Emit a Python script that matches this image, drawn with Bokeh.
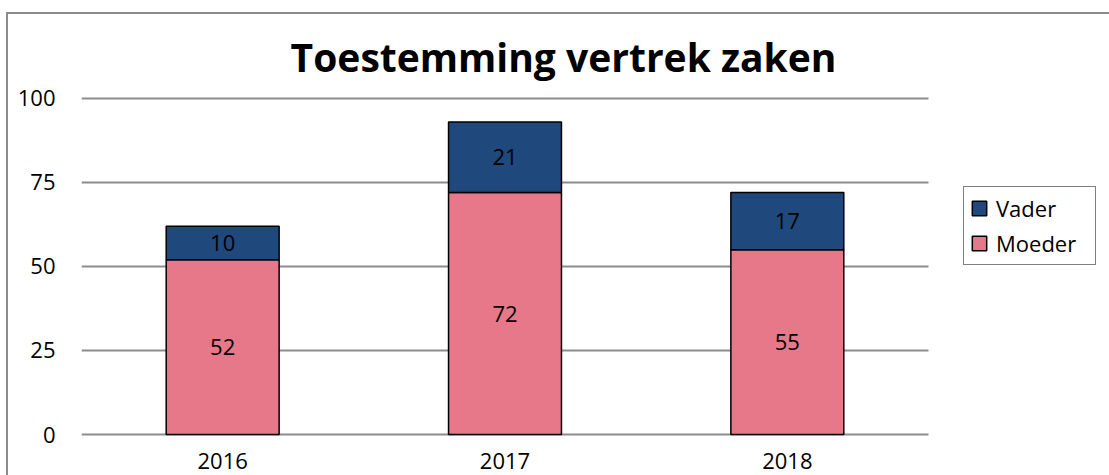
from bokeh.plotting import figure
from bokeh.models import (ColumnDataSource, Range1d, FixedTicker,
                          Legend, LegendItem, LabelSet, Label)
from bokeh.embed import file_html
from bokeh.resources import INLINE
from bokeh.core.properties import value

# ---- data ----
years = ["2016", "2017", "2018"]
moeder = [52, 72, 55]
vader = [10, 21, 17]
y_ticks = [0, 25, 50, 75, 100]
series_names = ["Moeder", "Vader"]
series_colors = ["#E6788A", "#1F497D"]
title_text = "Toestemming vertrek zaken"

FONT = "Open Sans"
GRID = "#8c8c8c"

# category slots: one unit per year; the frame continues to the right for the legend
n = len(years)
xpos = [i + 0.5 for i in range(n)]
x_end = n * 1028 / 847

p = figure(x_range=Range1d(0, x_end),
           y_range=Range1d(-0.595, 124.70),
           width=1109, height=475,
           output_backend="svg", toolbar_location=None,
           min_border_left=81, min_border_right=0,
           min_border_top=15, min_border_bottom=39)
p.outline_line_color = None
p.background_fill_color = None
p.border_fill_color = None
p.styles = {
    "background-color": "white",
    "background-image": f"linear-gradient({GRID},{GRID}), linear-gradient({GRID},{GRID})",
    "background-size": "100% 2px, 2px 100%",
    "background-position": "6px 12px, 6px 12px",
    "background-repeat": "no-repeat",
}

source = ColumnDataSource(dict(x=xpos, years=years, Moeder=moeder, Vader=vader))
rs = p.vbar_stack(series_names, x="x", width=0.4, source=source,
                  fill_color=series_colors, line_color="black", line_width=1.5)

# grid / axes
p.xgrid.grid_line_color = None
p.ygrid.ticker = FixedTicker(ticks=y_ticks)
p.ygrid.grid_line_color = GRID
p.ygrid.grid_line_width = 2
try:
    p.ygrid.cross_bounds = (0, n)
except Exception:
    p.ygrid.visible = False
    p.segment(x0=[0] * len(y_ticks), x1=[n] * len(y_ticks), y0=y_ticks, y1=y_ticks,
              line_color=GRID, line_width=2, level="underlay")

p.yaxis.ticker = FixedTicker(ticks=y_ticks)
p.yaxis.axis_line_color = None
p.yaxis.major_tick_line_color = None
p.yaxis.minor_tick_line_color = None
p.yaxis.major_tick_out = 0
p.yaxis.major_tick_in = 0
p.yaxis.major_label_standoff = 26
p.yaxis.major_label_text_font = FONT
p.yaxis.major_label_text_font_size = "22px"
p.yaxis.major_label_text_color = "black"

p.xaxis.ticker = FixedTicker(ticks=xpos)
p.xaxis.major_label_overrides = {x: y for x, y in zip(xpos, years)}
p.xaxis.axis_line_color = None
p.xaxis.major_tick_line_color = None
p.xaxis.minor_tick_line_color = None
p.xaxis.major_tick_out = 0
p.xaxis.major_tick_in = 0
p.xaxis.major_label_standoff = 16
p.xaxis.major_label_text_font = FONT
p.xaxis.major_label_text_font_size = "22px"
p.xaxis.major_label_text_color = "black"

# chart title
p.add_layout(Label(x=482, y=380, x_units="screen", y_units="screen", text=title_text,
                   text_align="center", text_baseline="alphabetic",
                   text_font=FONT, text_font_style="bold", text_font_size="39px",
                   text_color="black"))

# data labels
mo_mid = [m / 2 for m in moeder]
va_mid = [m + v / 2 for m, v in zip(moeder, vader)]
lab_src = ColumnDataSource(dict(
    x=xpos + xpos,
    y=mo_mid + va_mid,
    t=[str(v) for v in moeder] + [str(v) for v in vader],
))
p.add_layout(LabelSet(x="x", y="y", text="t", source=lab_src,
                      text_align="center", text_baseline="middle",
                      text_font=value(FONT), text_font_size="22px", text_color="black"))

# legend
legend = Legend(items=[LegendItem(label="Vader", renderers=[rs[1]]),
                       LegendItem(label="Moeder", renderers=[rs[0]])],
                location=(882, 171), orientation="vertical",
                label_text_font=FONT, label_text_font_size="22px", label_text_color="black",
                border_line_color="black", border_line_width=1,
                background_fill_color="white",
                padding=6, spacing=5, margin=0,
                glyph_width=18, glyph_height=18, label_standoff=8,
                label_width=93, label_height=20)
p.add_layout(legend)

open("out.html", "w").write(file_html(p, INLINE))
